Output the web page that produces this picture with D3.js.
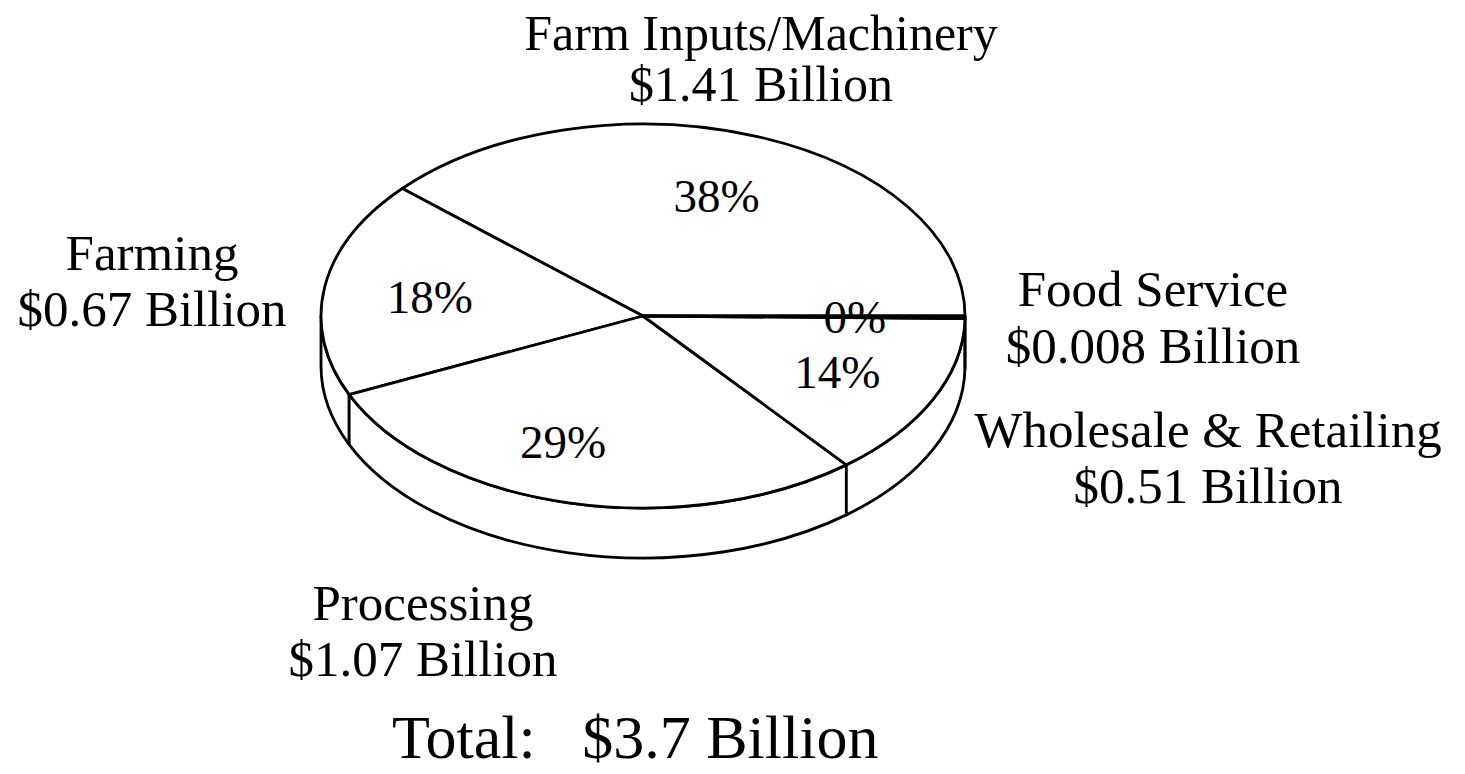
<!DOCTYPE html>
<html>
<head>
<meta charset="utf-8">
<script src="https://cdn.jsdelivr.net/npm/d3@7"></script>
<style>
  html, body { margin: 0; padding: 0; background: #fff; }
  #chart { width: 1465px; height: 774px; }
</style>
</head>
<body>
<div id="chart"></div>
<script>
// Slices, in drawing order (counter-clockwise from 3 o'clock)
const categories = ['Farm Inputs/Machinery', 'Farming', 'Processing', 'Wholesale & Retailing', 'Food Service'];
const values = [1.41, 0.67, 1.07, 0.51, 0.008];
const unit = 'Billion';

(function () {
  const W = 1465, H = 774;
  const svg = d3.select('#chart').append('svg').attr('width', W).attr('height', H);

  // ellipse geometry of the tilted pie
  const cx = 643, cy = 316, rx = 322, ry = 192, depth = 50;
  const sy = ry / rx;
  const font = '"Liberation Serif", "Times New Roman", Times, serif';
  const ink = '#000';
  const sw = 2.8;

  // outer label anchors (centre x, first baseline, line gap, font size)
  const outer = [
    { x: 761, y: 50, gap: 51, fs: 50 },
    { x: 152, y: 270, gap: 56, fs: 51 },
    { x: 423, y: 620, gap: 56, fs: 51 },
    { x: 1208, y: 447, gap: 56, fs: 51 },
    { x: 1153, y: 306, gap: 57, fs: 51 }
  ];
  // small nudges for the percent labels
  const nudge = [[-3, 0], [0, 0], [-30, 0], [0, 0], [-4, 0]];

  const data = categories.map((c, i) => ({ name: c, value: values[i], i }));
  const total = d3.sum(values);

  const pie = d3.pie()
    .sort(null)
    .value((d) => d.value)
    .startAngle(Math.PI / 2)
    .endAngle(Math.PI / 2 - 2 * Math.PI);
  const arcs = pie(data);

  const arc = d3.arc().innerRadius(0).outerRadius(rx);
  const labelArc = d3.arc().innerRadius(rx * 0.67).outerRadius(rx * 0.67);

  const g = svg.append('g').attr('transform', `translate(${cx},${cy}) scale(1,${sy})`);

  // side wall: only the front half (canvas angles 0..PI) is visible
  const dd = depth / sy;
  const side = g.append('g');
  arcs.forEach((a) => {
    const a0 = a.endAngle - Math.PI / 2;
    const a1 = a.startAngle - Math.PI / 2;
    [-1, 0, 1, 2].forEach((k) => {
      const lo = Math.max(Math.min(a0, a1) + 2 * Math.PI * k, 0);
      const hi = Math.min(Math.max(a0, a1) + 2 * Math.PI * k, Math.PI);
      if (hi - lo <= 1e-6) return;
      const p = d3.path();
      p.moveTo(rx * Math.cos(lo), rx * Math.sin(lo));
      p.arc(0, 0, rx, lo, hi, false);
      p.lineTo(rx * Math.cos(hi), rx * Math.sin(hi) + dd);
      p.arc(0, dd, rx, hi, lo, true);
      p.closePath();
      side.append('path')
        .attr('d', p.toString())
        .attr('fill', '#fff')
        .attr('stroke', ink)
        .attr('stroke-width', sw)
        .attr('stroke-linejoin', 'round')
        .attr('vector-effect', 'non-scaling-stroke');
    });
  });

  // top face
  g.append('g')
    .selectAll('path')
    .data(arcs)
    .enter()
    .append('path')
    .attr('d', arc)
    .attr('fill', '#fff')
    .attr('stroke', ink)
    .attr('stroke-width', sw)
    .attr('stroke-linejoin', 'round')
    .attr('vector-effect', 'non-scaling-stroke');

  // percent labels
  svg.append('g')
    .selectAll('text')
    .data(arcs)
    .enter()
    .append('text')
    .attr('x', (d, i) => cx + labelArc.centroid(d)[0] + nudge[i][0])
    .attr('y', (d, i) => cy + labelArc.centroid(d)[1] * sy + nudge[i][1])
    .attr('dy', '0.35em')
    .attr('text-anchor', 'middle')
    .attr('font-family', font)
    .attr('font-size', 47)
    .attr('fill', ink)
    .text((d) => Math.round((d.data.value / total) * 100) + '%');

  // category labels
  const lab = svg.append('g')
    .selectAll('text')
    .data(data)
    .enter()
    .append('text')
    .attr('text-anchor', 'middle')
    .attr('font-family', font)
    .attr('font-size', (d) => outer[d.i].fs)
    .attr('fill', ink);

  lab.append('tspan')
    .attr('x', (d) => outer[d.i].x)
    .attr('y', (d) => outer[d.i].y)
    .text((d) => d.name);
  lab.append('tspan')
    .attr('x', (d) => outer[d.i].x)
    .attr('y', (d) => outer[d.i].y + outer[d.i].gap)
    .text((d) => `$${d.value} ${unit}`);

  svg.append('text')
    .attr('x', 392)
    .attr('y', 758)
    .attr('font-family', font)
    .attr('font-size', 62)
    .attr('fill', ink)
    .attr('xml:space', 'preserve')
    .style('white-space', 'pre')
    .text(`Total:   $${d3.format('.1f')(total)} ${unit}`);
})();
</script>
</body>
</html>
